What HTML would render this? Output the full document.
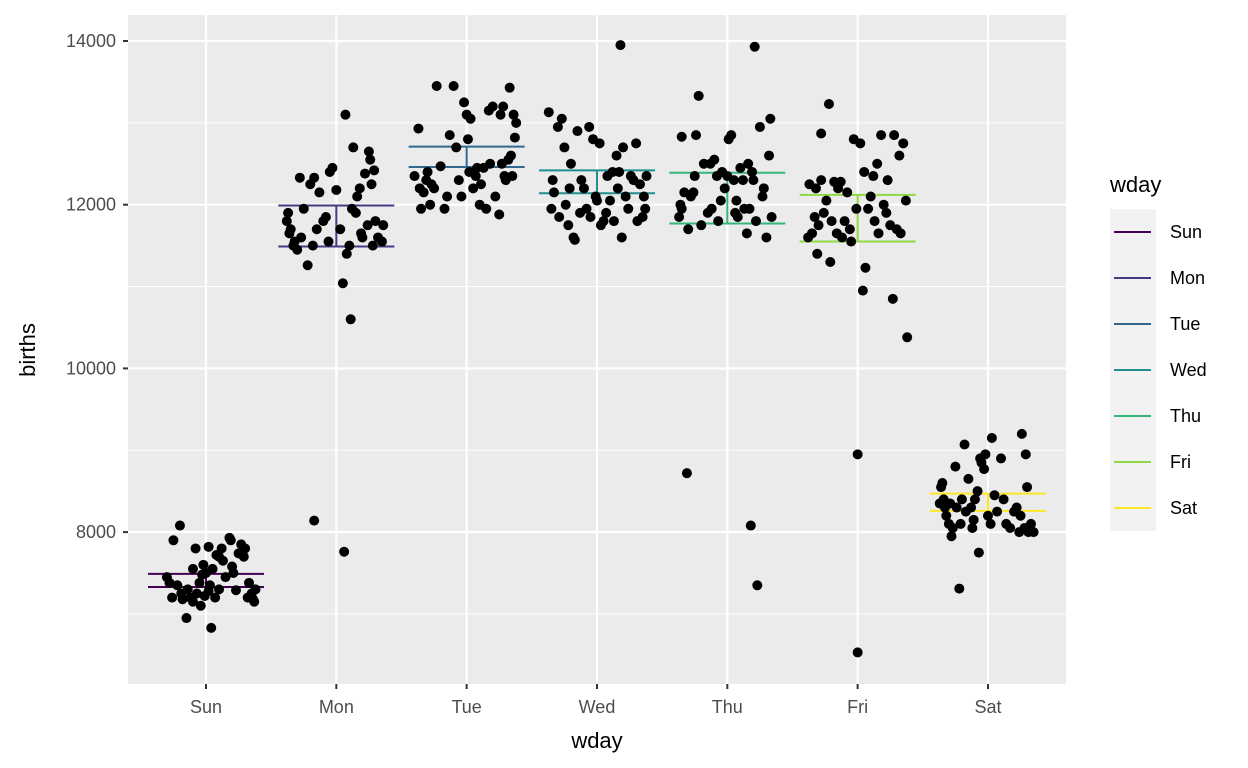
<!DOCTYPE html>
<html><head><meta charset="utf-8"><style>
body{margin:0;background:#fff}
svg{display:block;font-family:"Liberation Sans",sans-serif}
</style></head><body>
<svg id="chart" width="1248" height="768" viewBox="0 0 1248 768">
<rect x="128" y="15" width="938" height="669" fill="#EBEBEB"/>
<g id="grid"></g><g id="errs"></g><g id="pts"></g><g id="axes"></g><g id="legend"></g>
<text x="597" y="748" font-size="22" text-anchor="middle" fill="#000">wday</text>
<text transform="translate(35,350) rotate(-90)" font-size="22" text-anchor="middle" fill="#000">births</text>
</svg>
<script>
const days=["Sun","Mon","Tue","Wed","Thu","Fri","Sat"];
const colors=["#440154","#443A83","#31688E","#21908C","#35B779","#8FD744","#FDE725"];
const yTicks=[8000,10000,12000,14000];
const yMinor=[7000,9000,11000,13000];
const errLo=[7330,11490,12460,12140,11770,11550,8260];
const errHi=[7490,11990,12710,12420,12390,12120,8470];
const ptsSun=[[-0.3,7450],[-0.28,7380],[-0.26,7200],[-0.25,7900],[-0.2,8080],[-0.19,7250],[-0.18,7180],[-0.15,6950],[-0.14,7300],[-0.12,7200],[-0.1,7550],[-0.08,7800],[-0.07,7250],[-0.05,7380],[-0.04,7100],[-0.02,7600],[0,7500],[0.02,7820],[0.03,7350],[0.05,7550],[0.07,7200],[0.08,7720],[0.1,7300],[0.12,7800],[0.13,7650],[0.15,7450],[0.02,7280],[-0.01,7220],[0.04,6830],[0.18,7930],[0.19,7900],[0.2,7580],[0.21,7500],[0.23,7290],[0.25,7740],[0.27,7850],[0.29,7700],[0.3,7800],[0.32,7200],[0.33,7380],[0.35,7250],[0.36,7180],[0.37,7150],[0.38,7300],[-0.22,7350],[-0.1,7150],[0.1,7700],[-0.03,7480]];
const ptsMon=[[-0.38,11800],[-0.37,11900],[-0.36,11650],[-0.35,11700],[-0.33,11500],[-0.3,11450],[-0.28,12330],[-0.27,11600],[-0.25,11950],[-0.22,11260],[-0.2,12250],[-0.18,11500],[-0.17,12330],[-0.15,11700],[-0.13,12150],[-0.1,11800],[-0.08,11850],[-0.05,12400],[-0.03,12450],[0,12180],[0.03,11700],[0.05,11040],[0.07,13100],[0.08,11400],[0.1,11500],[0.11,10600],[0.12,11950],[0.13,12700],[0.15,11900],[0.16,12100],[0.18,12200],[0.2,11600],[0.22,12380],[0.24,11750],[0.25,12650],[0.26,12550],[0.28,11500],[0.29,12420],[0.3,11800],[0.32,11600],[0.35,11550],[0.36,11750],[-0.17,8140],[0.06,7760],[-0.06,11550],[0.19,11650],[0.27,12250],[-0.32,11550]];
const ptsTue=[[-0.4,12350],[-0.37,12930],[-0.36,12200],[-0.35,11950],[-0.33,12150],[-0.31,12300],[-0.3,12400],[-0.28,12000],[-0.27,12250],[-0.25,12200],[-0.23,13450],[-0.2,12470],[-0.17,11950],[-0.15,12100],[-0.13,12850],[-0.1,13450],[-0.08,12700],[-0.06,12300],[-0.04,12100],[-0.02,13250],[0,13100],[0.01,12800],[0.02,12400],[0.03,13050],[0.05,12200],[0.07,12350],[0.08,12450],[0.1,12000],[0.11,12250],[0.13,12450],[0.15,11950],[0.17,13150],[0.18,12500],[0.2,13200],[0.22,12100],[0.25,11880],[0.26,13100],[0.28,13200],[0.29,12350],[0.3,12300],[0.32,12550],[0.33,13430],[0.35,12350],[0.36,13100],[0.37,12820],[0.38,13000],[0.34,12600],[0.27,12500]];
const ptsWed=[[-0.37,13130],[-0.35,11950],[-0.34,12300],[-0.33,12150],[-0.3,12950],[-0.29,11850],[-0.27,13050],[-0.25,12700],[-0.24,12000],[-0.22,11750],[-0.21,12200],[-0.2,12500],[-0.18,11600],[-0.17,11570],[-0.15,12900],[-0.13,11900],[-0.12,12300],[-0.1,12200],[-0.08,11950],[-0.06,12950],[-0.05,11850],[-0.03,12800],[-0.01,12100],[0,12050],[0.02,12750],[0.03,11750],[0.05,11800],[0.07,11900],[0.08,12350],[0.1,12050],[0.12,12400],[0.13,11800],[0.15,12600],[0.16,12200],[0.17,12400],[0.18,13950],[0.19,11600],[0.2,12700],[0.22,12100],[0.24,11950],[0.26,12350],[0.28,12300],[0.3,12750],[0.31,11800],[0.33,12250],[0.35,11850],[0.36,12100],[0.37,11950],[0.38,12350]];
const ptsThu=[[-0.37,11850],[-0.36,12000],[-0.35,11950],[-0.35,12830],[-0.33,12150],[-0.31,8720],[-0.3,11700],[-0.28,12100],[-0.25,12350],[-0.24,12850],[-0.22,13330],[-0.2,11750],[-0.18,12500],[-0.15,11900],[-0.13,12500],[-0.12,11950],[-0.1,12550],[-0.08,12350],[-0.07,11800],[-0.05,12050],[-0.04,12400],[-0.02,12200],[0,12350],[0.01,12800],[0.03,12850],[0.05,12300],[0.06,11900],[0.08,11850],[0.1,12450],[0.12,12300],[0.13,11950],[0.15,11650],[0.16,12500],[0.17,11950],[0.18,8080],[0.19,12400],[0.2,12300],[0.21,13930],[0.22,11800],[0.23,7350],[0.25,12950],[0.27,12100],[0.28,12200],[0.3,11600],[0.32,12600],[0.33,13050],[0.34,11850],[-0.26,12150],[0.07,12050]];
const ptsFri=[[-0.38,11600],[-0.37,12250],[-0.35,11650],[-0.33,11850],[-0.32,12200],[-0.31,11400],[-0.3,11750],[-0.28,12300],[-0.28,12870],[-0.26,11900],[-0.24,12050],[-0.22,13230],[-0.21,11300],[-0.2,11800],[-0.18,12280],[-0.16,11650],[-0.15,12200],[-0.13,12280],[-0.12,11600],[-0.1,11800],[-0.08,12150],[-0.06,11700],[-0.05,11550],[-0.03,12800],[-0.01,11950],[0,8950],[0,6530],[0.02,12750],[0.04,10950],[0.05,12400],[0.06,11230],[0.08,11950],[0.1,12100],[0.12,12350],[0.13,11800],[0.15,12500],[0.16,11650],[0.18,12850],[0.2,12000],[0.22,11900],[0.23,12300],[0.25,11750],[0.27,10850],[0.28,12850],[0.3,11700],[0.32,12600],[0.33,11650],[0.35,12750],[0.38,10380],[0.37,12050]];
const ptsSat=[[-0.37,8350],[-0.36,8550],[-0.35,8600],[-0.34,8400],[-0.32,8200],[-0.3,8100],[-0.29,8350],[-0.28,7950],[-0.27,8050],[-0.25,8800],[-0.24,8300],[-0.22,7310],[-0.21,8100],[-0.2,8400],[-0.18,9070],[-0.17,8250],[-0.15,8650],[-0.13,8300],[-0.12,8050],[-0.1,8400],[-0.08,8500],[-0.07,7750],[-0.06,8900],[-0.05,8850],[-0.03,8770],[-0.02,8950],[0,8200],[0.02,8100],[0.03,9150],[0.05,8450],[0.07,8250],[0.1,8900],[0.12,8400],[0.14,8100],[0.17,8050],[0.2,8250],[0.22,8300],[0.24,8000],[0.25,8200],[0.26,9200],[0.28,8050],[0.29,8950],[0.3,8550],[0.31,8000],[0.33,8100],[0.35,8000],[-0.33,8300],[-0.11,8150]];
const allPts=[ptsSun,ptsMon,ptsTue,ptsWed,ptsThu,ptsFri,ptsSat];

const NS="http://www.w3.org/2000/svg";
const X0=128,X1=1066,Y0=15,Y1=684;
function xs(i){return 206+i*130.33;}
function ys(v){return 41+(14000-v)*0.08185;}
function mk(parent,tag,attrs){const e=document.createElementNS(NS,tag);for(const k in attrs)e.setAttribute(k,attrs[k]);parent.appendChild(e);return e;}
const grid=document.getElementById('grid'),errs=document.getElementById('errs'),pts=document.getElementById('pts'),axes=document.getElementById('axes'),leg=document.getElementById('legend');
yMinor.forEach(v=>{const l=mk(grid,'line',{x1:X0,x2:X1,y1:ys(v),y2:ys(v),stroke:'#fff','stroke-width':1});

});
yTicks.forEach(v=>{const l=mk(grid,'line',{x1:X0,x2:X1,y1:ys(v),y2:ys(v),stroke:'#fff','stroke-width':2.2});


const t=mk(axes,'text',{x:116,y:ys(v)+6,'font-size':18,'text-anchor':'end',fill:'#4D4D4D'});t.textContent=v;


const tk=mk(axes,'line',{x1:123,x2:128,y1:ys(v),y2:ys(v),stroke:'#333','stroke-width':2});

});
days.forEach((d,i)=>{const x=xs(i);
const l=mk(grid,'line',{x1:x,x2:x,y1:Y0,y2:Y1,stroke:'#fff','stroke-width':2.2});


const tk=mk(axes,'line',{x1:x,x2:x,y1:684,y2:689,stroke:'#333','stroke-width':2});


const t=mk(axes,'text',{x:x,y:713,'font-size':18,'text-anchor':'middle',fill:'#4D4D4D'});t.textContent=d;


const g=mk(errs,'path',{d:`M${x-58},${ys(errHi[i])}H${x+58}M${x},${ys(errHi[i])}V${ys(errLo[i])}M${x-58},${ys(errLo[i])}H${x+58}`,stroke:colors[i],'stroke-width':2,fill:'none'});


allPts[i].forEach(p=>{const c=mk(pts,'circle',{cx:x+p[0]*130.33,cy:ys(p[1]),r:5,fill:'#000'});

});
});
const lt=mk(leg,'text',{x:1110,y:192,'font-size':22,fill:'#000'});lt.textContent='wday';


const lb=mk(leg,'rect',{x:1110,y:209,width:46,height:322,fill:'#F2F2F2'});


days.forEach((d,i)=>{const y=232+i*46;
const g=mk(leg,'g',{});


mk(g,'line',{x1:1114,x2:1151,y1:y,y2:y,stroke:colors[i],'stroke-width':2});
const t=mk(g,'text',{x:1170,y:y+6,'font-size':18,fill:'#000'});t.textContent=d;});
</script>
</body></html>
